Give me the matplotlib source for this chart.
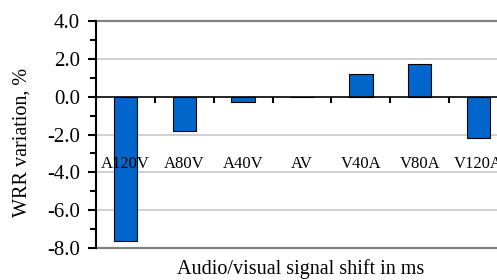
import numpy as np
import matplotlib.pyplot as plt
from matplotlib.ticker import MultipleLocator

# data
categories = ['A120V', 'A80V', 'A40V', 'AV', 'V40A', 'V80A', 'V120A']
wrr_change = [-7.6, -1.8, -0.3, 0.0, 1.2, 1.7, -2.2]

plt.rcParams['font.family'] = ['Liberation Serif', 'DejaVu Serif']

fig = plt.figure(figsize=(4.97, 2.80), dpi=100)
ax = fig.add_axes([96 / 497, 31.7 / 280, 412 / 497, 227.6 / 280])

x = np.arange(len(categories))
ax.bar(x, wrr_change, width=0.4, color='#0066cc', edgecolor='black', linewidth=0.8, zorder=3)

ax.set_xlim(-0.5, len(categories) - 0.5)
ax.set_ylim(-8, 4)
ax.yaxis.set_minor_locator(MultipleLocator(1))
yt = np.arange(-8, 4.1, 2)
ax.set_yticks(yt)
ax.set_yticklabels([f'{v:.1f}' for v in yt], fontsize=15)

# horizontal grid, darker at the plot area edges
for v in yt:
    if v in (-8, 4):
        ax.axhline(v, color='#808080', lw=1.6, zorder=1, clip_on=False)
    elif v != 0:
        ax.axhline(v, color='#c8c8c8', lw=1.2, zorder=1)

ax.spines['top'].set_visible(False)
ax.spines['right'].set_visible(False)
ax.spines['bottom'].set_position(('data', 0))
ax.spines['bottom'].set_zorder(4)
ax.spines['left'].set_linewidth(1.5)
ax.spines['bottom'].set_linewidth(1.2)
ax.xaxis.set_zorder(5)

ax.set_xticks(x)
ax.set_xticklabels(categories, fontsize=12)
ax.set_xticks(x[:-1] + 0.5, minor=True)
ax.tick_params(axis='x', which='major', length=0, pad=43)
ax.tick_params(axis='x', which='minor', length=4, width=1.5, direction='out')
ax.tick_params(axis='y', which='major', length=6, width=1.5, direction='out', pad=5.5)
ax.tick_params(axis='y', which='minor', length=4, width=1.5, direction='out')

ax.set_ylabel('WRR variation, %', fontsize=14.5, va='center')
ax.yaxis.set_label_coords(-0.18, 0.465)
fig.text(301 / 497, 1 - 269 / 280, 'Audio/visual signal shift in ms', fontsize=14.5,
         ha='center', va='center')

fig.savefig('out.png', dpi=100)
